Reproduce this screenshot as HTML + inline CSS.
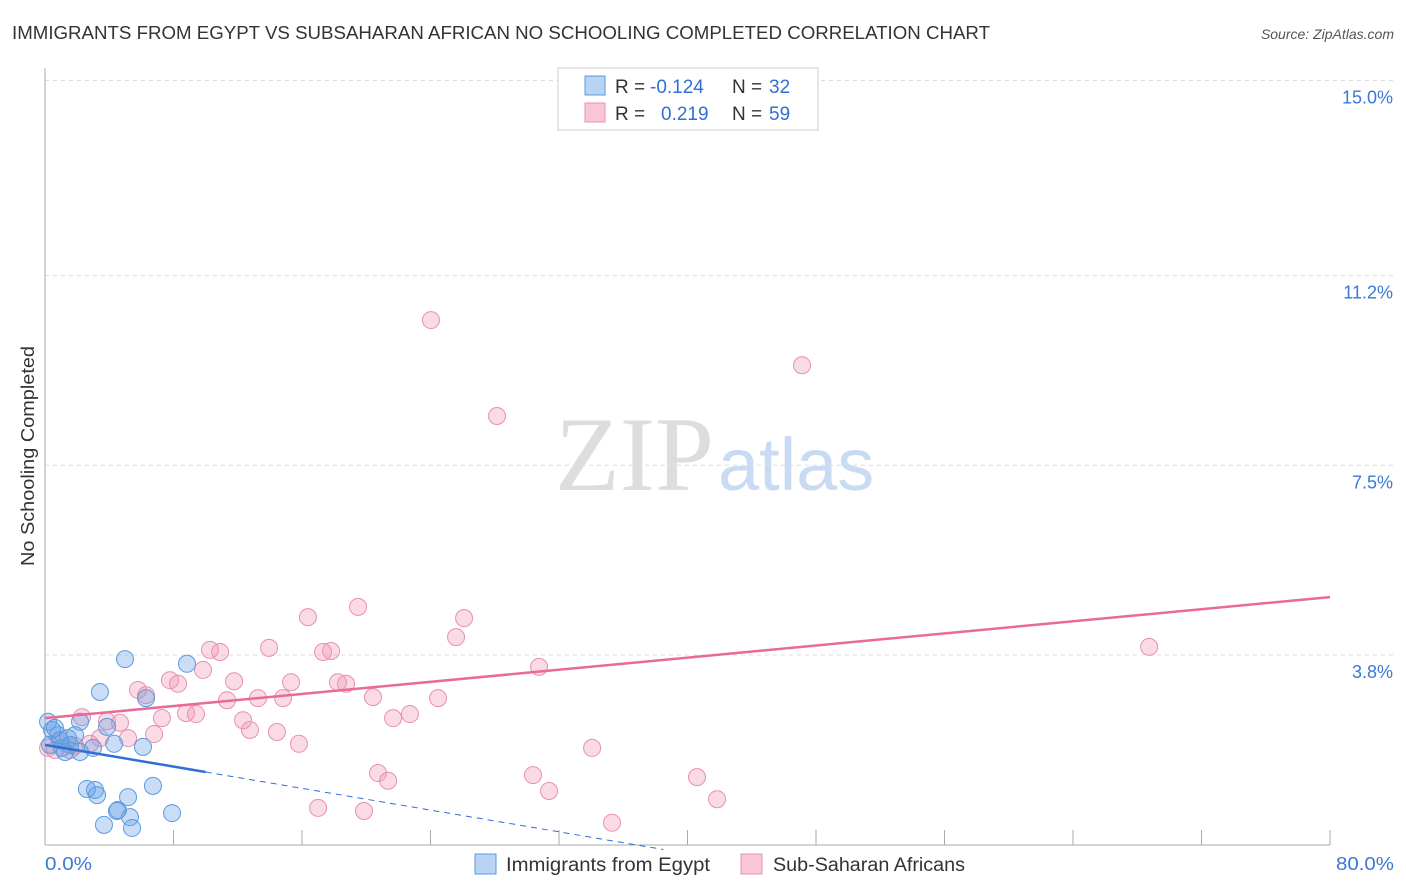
<!DOCTYPE html>
<html><head><meta charset="utf-8"><style>
body{margin:0;background:#fff;font-family:"Liberation Sans",sans-serif;}
svg{display:block}
</style></head><body>
<svg width="1406" height="892">
<text x="12" y="39" font-size="18" fill="#333" textLength="978" lengthAdjust="spacingAndGlyphs">IMMIGRANTS FROM EGYPT VS SUBSAHARAN AFRICAN NO SCHOOLING COMPLETED CORRELATION CHART</text>
<text x="1394" y="39" font-size="14" fill="#555" font-style="italic" text-anchor="end">Source: ZipAtlas.com</text>
<text x="34" y="456" font-size="18" fill="#333" text-anchor="middle" textLength="220" lengthAdjust="spacingAndGlyphs" transform="rotate(-90 34 456)">No Schooling Completed</text>
<text x="714" y="490" font-size="106" fill="#ddd" text-anchor="end" font-family="Liberation Serif,serif">ZIP</text>
<text x="718" y="490" font-size="74" fill="#c9dbf3">atlas</text>
<g id="grid"></g>
<g id="marks"></g>
<g>
<rect x="558" y="68" width="260" height="62" fill="#fff" stroke="#ccc"/>
<rect x="585" y="76" width="20" height="19" fill="#b9d3f5" stroke="#5b9be0"/>
<rect x="585" y="103" width="20" height="19" fill="#f9c6d6" stroke="#e890b0"/>
<text x="615" y="93" font-size="19" fill="#333">R =</text>
<text x="650" y="93" font-size="19" fill="#2f6fd6">-0.124</text>
<text x="732" y="93" font-size="19" fill="#333">N =</text>
<text x="769" y="93" font-size="19" fill="#2f6fd6">32</text>
<text x="615" y="120" font-size="19" fill="#333">R =</text>
<text x="661" y="120" font-size="19" fill="#2f6fd6">0.219</text>
<text x="732" y="120" font-size="19" fill="#333">N =</text>
<text x="769" y="120" font-size="19" fill="#2f6fd6">59</text>
</g>
<g>
<rect x="475" y="854" width="21" height="20" fill="#b9d3f5" stroke="#5b9be0"/>
<text x="506" y="871" font-size="19" fill="#333" textLength="204" lengthAdjust="spacingAndGlyphs">Immigrants from Egypt</text>
<rect x="741" y="854" width="21" height="20" fill="#f9c6d6" stroke="#e890b0"/>
<text x="773" y="871" font-size="19" fill="#333" textLength="192" lengthAdjust="spacingAndGlyphs">Sub-Saharan Africans</text>
</g>
</svg>
<script>
const yTicks=[15.0,11.2,7.5,3.8];
const yTickLabels=["15.0%","11.2%","7.5%","3.8%"];
const xTickLabels=["0.0%","80.0%"];
const egyptX=[4.98,8.84,3.42,6.29,0.19,0.62,2.18,3.86,0.93,0.31,1.56,2.99,4.30,6.10,1.25,2.18,2.61,3.11,3.24,6.72,4.54,5.17,4.48,5.29,3.67,5.42,7.91,0.81,1.87,1.06,0.44,1.43];
const egyptY=[3.72,3.63,3.08,2.96,2.50,2.38,2.50,2.40,2.14,2.05,2.05,1.99,2.07,2.01,1.91,1.91,1.19,1.17,1.07,1.25,0.78,1.03,0.76,0.64,0.49,0.43,0.72,2.24,2.24,1.99,2.34,2.18];
const ssaX=[24.03,47.13,28.14,19.49,16.37,26.09,25.59,10.27,10.90,13.95,17.31,17.81,30.76,68.74,9.84,7.78,8.28,11.77,15.32,18.24,18.74,5.79,6.29,13.26,14.82,11.33,20.42,24.47,8.78,9.40,7.28,12.33,21.67,22.72,2.30,3.86,4.67,12.76,14.44,6.79,5.17,3.42,15.81,34.06,1.87,2.80,0.62,20.73,21.36,30.38,40.59,31.38,41.84,17.00,19.86,35.30,0.93,1.56,0.19];
const ssaY=[10.33,9.45,8.46,4.74,4.54,4.52,4.15,3.90,3.86,3.94,3.86,3.88,3.57,3.96,3.51,3.31,3.24,3.29,3.27,3.27,3.24,3.12,3.02,2.96,2.96,2.92,2.98,2.96,2.67,2.65,2.57,2.53,2.57,2.65,2.59,2.51,2.48,2.34,2.30,2.26,2.18,2.18,2.07,1.99,2.03,2.07,1.95,1.50,1.35,1.46,1.42,1.15,0.99,0.82,0.76,0.53,2.14,1.95,1.99];
const egyptTrend=[2.05,-0.053];
const ssaTrend=[2.57,0.0295];
const NS="http://www.w3.org/2000/svg";
const sx=v=>45+v/80*1285;
const sy=v=>850-v*51.3;
function mk(t,a,p){const e=document.createElementNS(NS,t);for(const k in a)e.setAttribute(k,a[k]);p.appendChild(e);return e;}
const grid=document.getElementById('grid');
yTicks.forEach((t,i)=>{
 const l=mk('line',{x1:45,x2:1394,y1:sy(t),y2:sy(t),stroke:'#ddd','stroke-dasharray':'4 4'},grid);
 
 
 const tx=mk('text',{x:1393,y:sy(t)+23,'font-size':18,fill:'#3b78d8','text-anchor':'end'},grid);
 tx.textContent=yTickLabels[i];
 
 
});
mk('line',{x1:45,x2:45,y1:68,y2:845,stroke:'#aaa'},grid);
mk('line',{x1:45,x2:1330,y1:845,y2:845,stroke:'#aaa'},grid);
for(let i=0;i<=10;i++){const x=sx(i*8);mk('line',{x1:x,x2:x,y1:830,y2:845,stroke:'#aaa'},grid);}
[[0,'start',45,47],[1,'end',1394,58]].forEach(([i,a,x,w])=>{
 const tx=mk('text',{x:x,y:870,'font-size':18,fill:'#3b78d8','text-anchor':a,textLength:w,lengthAdjust:'spacingAndGlyphs'},grid);
 tx.textContent=xTickLabels[i];
 
 
});
const m=document.getElementById('marks');
ssaX.forEach((x,i)=>{
 const c=mk('circle',{cx:sx(x),cy:sy(ssaY[i]),r:8.5,fill:'rgba(240,150,180,0.35)',stroke:'#e890b0','stroke-width':1},m);
 
 
});
egyptX.forEach((x,i)=>{
 const c=mk('circle',{cx:sx(x),cy:sy(egyptY[i]),r:8.5,fill:'rgba(100,160,230,0.35)',stroke:'#5b9be0','stroke-width':1},m);
 
 
});
const pl=mk('line',{x1:sx(0),y1:sy(ssaTrend[0]),x2:sx(80),y2:sy(ssaTrend[0]+80*ssaTrend[1]),stroke:'#e8699a','stroke-width':2.5},m);


const bl=mk('line',{x1:sx(0),y1:sy(egyptTrend[0]),x2:sx(10),y2:sy(egyptTrend[0]+10*egyptTrend[1]),stroke:'#2f6fd6','stroke-width':2.5},m);


const xe=-egyptTrend[0]/egyptTrend[1];
const bd=mk('line',{x1:sx(10),y1:sy(egyptTrend[0]+10*egyptTrend[1]),x2:sx(Math.min(xe,38.5)),y2:sy(egyptTrend[0]+Math.min(xe,38.5)*egyptTrend[1]),stroke:'#2f6fd6','stroke-width':1,'stroke-dasharray':'6 5'},m);


</script>
</body></html>
